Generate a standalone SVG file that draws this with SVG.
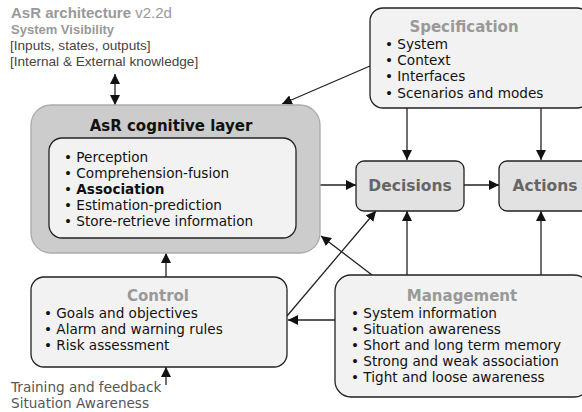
<svg xmlns="http://www.w3.org/2000/svg" width="582" height="412" viewBox="0 0 582 412">
  <defs>
    <marker id="arr" viewBox="0 0 10 10" refX="10" refY="5" markerWidth="10" markerHeight="10" markerUnits="userSpaceOnUse" orient="auto-start-reverse">
      <path d="M0,0 L10,5 L0,10 z" fill="#111"/>
    </marker>
    <style>
      .hd { font-family: "Liberation Sans", Arial, sans-serif; }
      .box { fill: #f2f2f2; stroke: #222; stroke-width: 1.3; }
      .small { fill: #e2e2e2; stroke: #222; stroke-width: 1.3; }
      .outer { fill: #cccccc; stroke: #aaaaaa; stroke-width: 1.3; }
      .t { font-family: "DejaVu Sans", sans-serif; font-size: 13.6px; fill: #111; }
      .ttl { font-family: "DejaVu Sans", sans-serif; font-size: 15px; font-weight: bold; fill: #999; text-anchor: middle; }
      .dttl { font-family: "DejaVu Sans", sans-serif; font-size: 15.5px; font-weight: bold; fill: #666; text-anchor: middle; }
      .cn { fill: none; stroke: #222; stroke-width: 1.3; marker-end: url(#arr); }
    </style>
  </defs>

  <!-- header text -->
  <g id="header">
    <text class="hd" x="11" y="18" font-size="15" fill="#999"><tspan font-weight="bold">AsR architecture</tspan> v2.2d</text>
    <text class="hd" x="11" y="34" font-size="13" font-weight="bold" fill="#999">System Visibility</text>
    <text class="hd" x="10" y="50" font-size="13.6" fill="#444">[Inputs, states, outputs]</text>
    <text class="hd" x="10" y="66" font-size="13.6" fill="#444">[Internal &amp; External knowledge]</text>
  </g>

  <!-- connectors -->
  <g id="connectors">
    <line class="cn" x1="115" y1="90" x2="115" y2="105"/>
    <line class="cn" x1="115" y1="90" x2="115" y2="74"/>
    <line class="cn" x1="370" y1="66" x2="282" y2="104"/>
    <line class="cn" x1="407" y1="108" x2="407" y2="160"/>
    <line class="cn" x1="541" y1="108" x2="541" y2="160"/>
    <line class="cn" x1="320" y1="185" x2="356" y2="185"/>
    <line class="cn" x1="464" y1="185" x2="499" y2="185"/>
    <line class="cn" x1="166" y1="277" x2="166" y2="253"/>
    <line class="cn" x1="166" y1="385" x2="166" y2="367"/>
    <line class="cn" x1="287" y1="316" x2="376" y2="211"/>
    <line class="cn" x1="372" y1="275" x2="321" y2="236"/>
    <line class="cn" x1="335" y1="320" x2="288" y2="320"/>
    <line class="cn" x1="407" y1="275" x2="407" y2="211"/>
    <line class="cn" x1="541" y1="275" x2="541" y2="211"/>
  </g>

  <!-- cognitive layer -->
  <g id="cognitive">
    <rect class="outer" x="31" y="105" width="289" height="148" rx="20"/>
    <text class="ttl" x="171" y="131" style="fill:#111">AsR cognitive layer</text>
    <rect class="box" x="49" y="138" width="247" height="100" rx="13"/>
    <text class="t" x="64" y="162">• Perception</text>
    <text class="t" x="64" y="178">• Comprehension-fusion</text>
    <text class="t" x="64" y="194">• <tspan font-weight="bold">Association</tspan></text>
    <text class="t" x="64" y="210">• Estimation-prediction</text>
    <text class="t" x="64" y="226">• Store-retrieve information</text>
  </g>

  <!-- specification -->
  <g id="specification">
    <rect class="box" x="370" y="8" width="220" height="100" rx="13"/>
    <text class="ttl" x="464" y="32">Specification</text>
    <text class="t" x="385" y="49">• System</text>
    <text class="t" x="385" y="65">• Context</text>
    <text class="t" x="385" y="81">• Interfaces</text>
    <text class="t" x="385" y="98">• Scenarios and modes</text>
  </g>

  <!-- decisions -->
  <g id="decisions">
    <rect class="small" x="356" y="161" width="108" height="50" rx="8"/>
    <text class="dttl" x="410" y="191">Decisions</text>
  </g>

  <!-- actions -->
  <g id="actions">
    <rect class="small" x="499" y="161" width="100" height="50" rx="8"/>
    <text class="dttl" x="545" y="191">Actions</text>
  </g>

  <!-- control -->
  <g id="control">
    <rect class="box" x="31" y="277" width="256" height="90" rx="13"/>
    <text class="ttl" x="158" y="301">Control</text>
    <text class="t" x="44" y="318">• Goals and objectives</text>
    <text class="t" x="44" y="334">• Alarm and warning rules</text>
    <text class="t" x="44" y="350">• Risk assessment</text>
    <text class="t" x="11" y="392" style="fill:#555">Training and feedback</text>
    <text class="t" x="11" y="408" style="fill:#555">Situation Awareness</text>
  </g>

  <!-- management -->
  <g id="management">
    <rect class="box" x="335" y="275" width="255" height="122" rx="16"/>
    <text class="ttl" x="462" y="301">Management</text>
    <text class="t" x="351" y="318">• System information</text>
    <text class="t" x="351" y="334">• Situation awareness</text>
    <text class="t" x="351" y="350">• Short and long term memory</text>
    <text class="t" x="351" y="366">• Strong and weak association</text>
    <text class="t" x="351" y="382">• Tight and loose awareness</text>
  </g>
</svg>
